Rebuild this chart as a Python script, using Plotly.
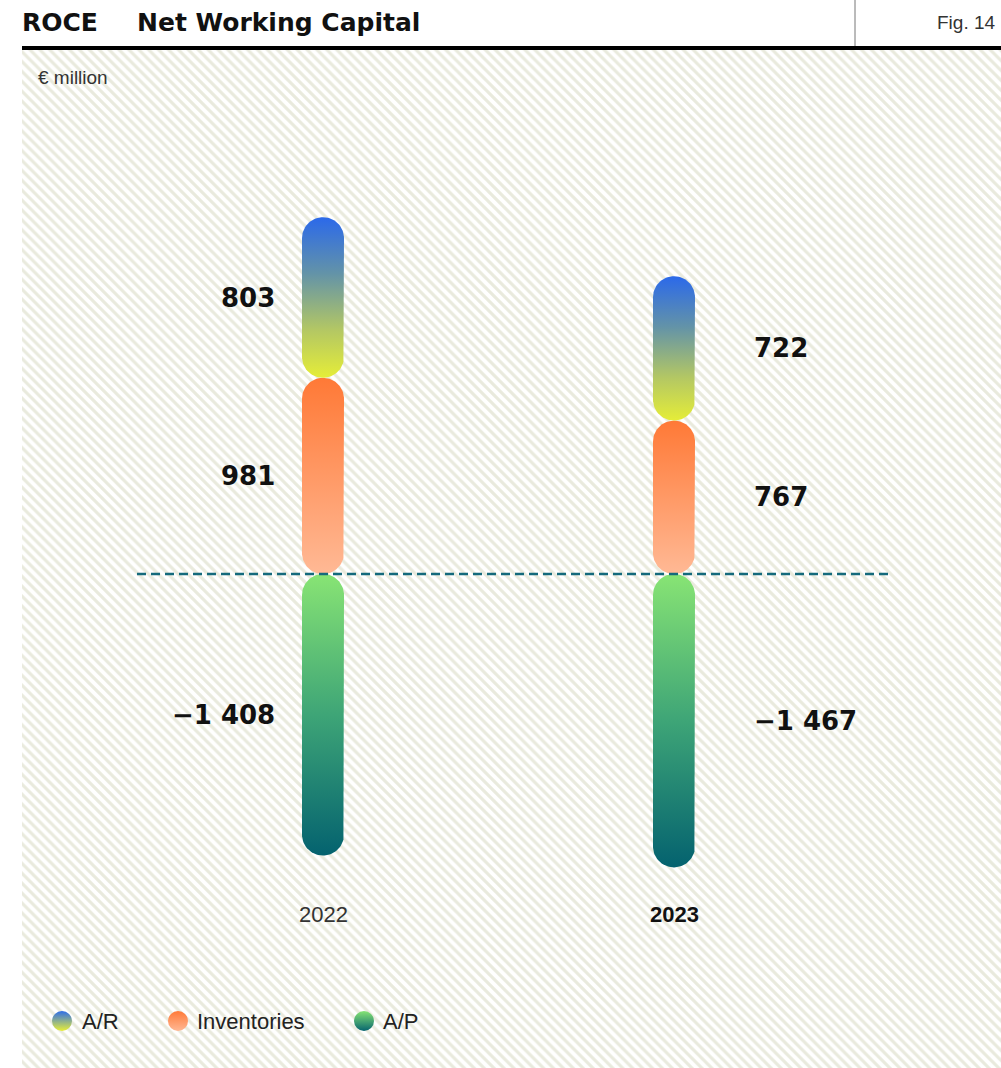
import math
import plotly.graph_objects as go

# ── Data ─────────────────────────────────────────────────────────────────────
years = ["2022", "2023"]
ar = [803, 722]
inventories = [981, 767]
ap = [-1408, -1467]

W, H = 1001, 1068

# pixel geometry of the drawing (positions / scale only, no data)
KX = 351.0          # px per x unit (distance between the two columns)
X0_PX = 323         # pixel of x = 0
ZERO_PX = 574       # pixel row of y = 0
UNITS_PER_PX = 5.0  # € million per pixel
HALF_W = 21         # bar half width in px

x_range = [-X0_PX / KX, (W - X0_PX) / KX]
y_range = [-(H - ZERO_PX) * UNITS_PER_PX, ZERO_PX * UNITS_PER_PX]


def px_x(p):
    return x_range[0] + p / KX


def px_y(p):
    return y_range[1] - p * UNITS_PER_PX


def capsule(xc, lo, hi, n=40):
    rx = HALF_W / KX
    ry = HALF_W * UNITS_PER_PX
    xs, ys = [], []
    for i in range(n + 1):
        a = math.pi - math.pi * i / n
        xs.append(xc + rx * math.cos(a))
        ys.append(hi - ry + ry * math.sin(a))
    for i in range(n + 1):
        a = -math.pi * i / n
        xs.append(xc + rx * math.cos(a))
        ys.append(lo + ry + ry * math.sin(a))
    xs.append(xs[0])
    ys.append(ys[0])
    return xs, ys


def fmt(v):
    s = f"{abs(v):,}".replace(",", " ")
    return ("−" if v < 0 else "") + s


AR_SCALE = [[0, "#e5ed38"], [0.3, "#b3c764"], [0.65, "#6393a8"], [1, "#2b69ea"]]
INV_SCALE = [[0, "#ffb995"], [1, "#ff7936"]]
AP_SCALE = [[0, "#04626f"], [0.5, "#3ea577"], [1, "#88e474"]]

fig = go.Figure()

# ── Hatched background ───────────────────────────────────────────────────────
bx0, bx1 = px_x(22), px_x(W)
by0, by1 = px_y(H), px_y(50)
fig.add_trace(go.Scatter(
    x=[bx0, bx1, bx1, bx0, bx0], y=[by0, by0, by1, by1, by0],
    mode="lines", line=dict(width=0), fill="toself",
    fillpattern=dict(shape="\\", size=7, solidity=0.45,
                     fgcolor="#d3d6bc", bgcolor="white"),
    hoverinfo="skip", showlegend=False,
))

# ── Capsules ─────────────────────────────────────────────────────────────────
for i, yr in enumerate(years):
    segs = [
        (0, inventories[i], INV_SCALE),
        (inventories[i], inventories[i] + ar[i], AR_SCALE),
        (ap[i], 0, AP_SCALE),
    ]
    for lo, hi, scale in segs:
        xs, ys = capsule(i, lo, hi)
        fig.add_trace(go.Scatter(
            x=xs, y=ys, mode="lines", line=dict(width=0), fill="toself",
            fillgradient=dict(type="vertical", colorscale=scale),
            hoverinfo="skip", showlegend=False,
        ))

# zero line
fig.add_hline(y=0, x0=137 / W, x1=893 / W,
              line=dict(color="#146a7c", width=2.5, dash="9px,5px"))

# ── Value labels ─────────────────────────────────────────────────────────────
LBL_FONT = dict(family="DejaVu Sans", size=26, color="#111111", weight="bold")
for i in range(len(years)):
    items = [
        (inventories[i] + ar[i] / 2, ar[i]),
        (inventories[i] / 2, inventories[i]),
        (ap[i] / 2, ap[i]),
    ]
    for ymid, v in items:
        if i == 0:
            fig.add_annotation(x=i, y=ymid, text=fmt(v), showarrow=False,
                               xanchor="right", yanchor="middle", xshift=-46,
                               font=LBL_FONT)
        else:
            fig.add_annotation(x=i, y=ymid, text=fmt(v), showarrow=False,
                               xanchor="left", yanchor="middle", xshift=78,
                               font=LBL_FONT)

# year labels
for i, yr in enumerate(years):
    fig.add_annotation(
        x=i, y=1 - 914 / H, yref="paper", text=yr, showarrow=False,
        xanchor="center", yanchor="middle",
        font=dict(family="Liberation Sans", size=22,
                  color="#111111" if i == 1 else "#333333",
                  weight="bold" if i == 1 else "normal"),
    )

# ── Legend (manual, gradient dots) ───────────────────────────────────────────
leg = [
    ("A/R", 62, 80, "#2f6ee8", "#e9ef36"),
    ("Inventories", 178, 195, "#ff7a38", "#ffb894"),
    ("A/P", 364, 381, "#86e474", "#07656f"),
]
for name, cx, tx, top, bot in leg:
    fig.add_trace(go.Scatter(
        x=[px_x(cx)], y=[px_y(1021)], mode="markers",
        marker=dict(size=20, color=top, line=dict(width=0),
                    gradient=dict(type="vertical", color=bot)),
        hoverinfo="skip", showlegend=False,
    ))
    fig.add_annotation(x=tx / W, y=1 - 1021 / H, xref="paper", yref="paper",
                       text=name, showarrow=False, xanchor="left",
                       yanchor="middle",
                       font=dict(family="Liberation Sans", size=22,
                                 color="#222222"))

# ── Header ───────────────────────────────────────────────────────────────────
fig.add_shape(type="rect", xref="paper", yref="paper",
              x0=22 / W, x1=1, y0=1 - 50 / H, y1=1 - 46 / H,
              fillcolor="black", line=dict(width=0))
fig.add_shape(type="line", xref="paper", yref="paper",
              x0=855 / W, x1=855 / W, y0=1 - 46 / H, y1=1,
              line=dict(color="#777777", width=1))
HDR_FONT = dict(family="DejaVu Sans", size=25, color="#111111", weight="bold")
fig.add_annotation(x=20 / W, y=1 - 22 / H, xref="paper", yref="paper",
                   text="ROCE", showarrow=False, xanchor="left",
                   yanchor="middle", font=HDR_FONT)
fig.add_annotation(x=135 / W, y=1 - 22 / H, xref="paper", yref="paper",
                   text="Net Working Capital", showarrow=False,
                   xanchor="left", yanchor="middle", font=HDR_FONT)
fig.add_annotation(x=998 / W, y=1 - 22 / H, xref="paper", yref="paper",
                   text="Fig. 14", showarrow=False, xanchor="right",
                   yanchor="middle",
                   font=dict(family="Liberation Sans", size=19,
                             color="#333333"))
fig.add_annotation(x=36 / W, y=1 - 78 / H, xref="paper", yref="paper",
                   text="€ million", showarrow=False, xanchor="left",
                   yanchor="middle",
                   font=dict(family="Liberation Sans", size=19,
                             color="#333333"))

# ── Layout ───────────────────────────────────────────────────────────────────
fig.update_layout(
    width=W, height=H,
    margin=dict(l=0, r=0, t=0, b=0),
    paper_bgcolor="white", plot_bgcolor="white",
    showlegend=False,
    xaxis=dict(range=x_range, visible=False, fixedrange=True),
    yaxis=dict(range=y_range, visible=False, fixedrange=True),
)

fig.write_html("out.html", config={"displayModeBar": False},
               post_script="document.body.style.margin='0';")
